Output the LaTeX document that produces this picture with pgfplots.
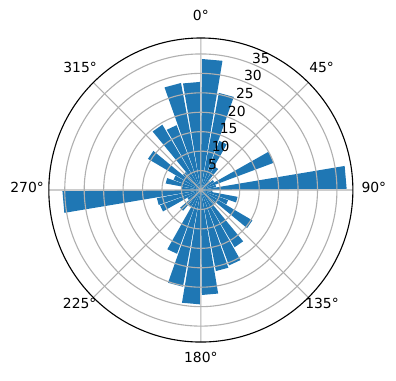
\documentclass[border=0pt]{standalone}
\usepackage{fontspec}
\setmainfont{DejaVu Sans}
\usepackage{pgfplots}
\pgfplotsset{compat=1.18}
\usepgfplotslibrary{polar}
\definecolor{mplblue}{HTML}{1F77B4}
\definecolor{gridgray}{HTML}{B0B0B0}
\newcommand{\rb}[3]{\addplot[fill=mplblue, draw=none] coordinates {(#1,0) (#1,#3) (#2,#3) (#2,0)} -- cycle;}
\begin{document}
\begin{tikzpicture}
\begin{polaraxis}[
  scale only axis, width=218.9pt, height=218.9pt,
  ymin=0, ymax=39.1,
  xtick={0,45,...,315},
  xticklabels={},
  ytick={5,10,...,35},
  yticklabels={},
  grid=major,
  major grid style={gridgray, line width=0.8pt},
  axis on top,
  separate axis lines,
  x axis line style={black, line width=0.8pt},
  y axis line style={draw=none},
  major tick length=0pt,
  clip=false,
  font=\fontsize{10}{12}\selectfont,
]
% bars: compass bins of 10 degrees, converted to math angles (90 - compass)
\rb{89.5}{80.5}{33.7}
\rb{79.5}{70.5}{25.4}
\rb{69.5}{60.5}{13.5}
\rb{59.5}{50.5}{7}
\rb{49.5}{40.5}{3}
\rb{39.5}{30.5}{4}
\rb{29.5}{20.5}{20}
\rb{19.5}{10.5}{4}
\rb{9.5}{0.5}{37.5}
\rb{-0.5}{-9.5}{3}
\rb{-10.5}{-19.5}{9.6}
\rb{-20.5}{-29.5}{7.5}
\rb{-30.5}{-39.5}{15.4}
\rb{-40.5}{-49.5}{5}
\rb{-50.5}{-59.5}{17.1}
\rb{-60.5}{-69.5}{20.7}
\rb{-70.5}{-79.5}{21.2}
\rb{-80.5}{-89.5}{27}
\rb{-90.5}{-99.5}{29.4}
\rb{-100.5}{-109.5}{25.3}
\rb{-110.5}{-119.5}{17.5}
\rb{-120.5}{-129.5}{5}
\rb{-130.5}{-139.5}{7}
\rb{-140.5}{-149.5}{4}
\rb{-150.5}{-159.5}{11.2}
\rb{-160.5}{-169.5}{11.5}
\rb{-170.5}{-179.5}{35.6}
\rb{-180.5}{-189.5}{5}
\rb{-190.5}{-199.5}{9.2}
\rb{-200.5}{-209.5}{7.5}
\rb{-210.5}{-219.5}{15.8}
\rb{-220.5}{-229.5}{6}
\rb{-230.5}{-239.5}{19.5}
\rb{-240.5}{-249.5}{17.8}
\rb{-250.5}{-259.5}{28}
\rb{-260.5}{-269.5}{27.8}
% radial tick labels
\node[font=\fontsize{10}{12}\selectfont] at (axis cs:65.5,7.3) {5};
\node[font=\fontsize{10}{12}\selectfont] at (axis cs:65.5,12.3) {10};
\node[font=\fontsize{10}{12}\selectfont] at (axis cs:65.5,17.3) {15};
\node[font=\fontsize{10}{12}\selectfont] at (axis cs:65.5,22.3) {20};
\node[font=\fontsize{10}{12}\selectfont] at (axis cs:65.5,27.3) {25};
\node[font=\fontsize{10}{12}\selectfont] at (axis cs:65.5,32.3) {30};
\node[font=\fontsize{10}{12}\selectfont] at (axis cs:65.5,37.3) {35};
% angular tick labels
\node[font=\fontsize{10}{12}\selectfont] at (axis cs:90,45.0) {0°};
\node[font=\fontsize{10}{12}\selectfont] at (axis cs:45.5,44.3) {45°};
\node[font=\fontsize{10}{12}\selectfont] at (axis cs:0.7,44.5) {90°};
\node[font=\fontsize{10}{12}\selectfont] at (axis cs:-43,42.6) {135°};
\node[font=\fontsize{10}{12}\selectfont] at (axis cs:-90,43.0) {180°};
\node[font=\fontsize{10}{12}\selectfont] at (axis cs:-137,42.6) {225°};
\node[font=\fontsize{10}{12}\selectfont] at (axis cs:179.3,44.7) {270°};
\node[font=\fontsize{10}{12}\selectfont] at (axis cs:134.5,44.3) {315°};
\coordinate (ctr) at (axis cs:0,0);
\end{polaraxis}
\pgfresetboundingbox
\useasboundingbox ([shift={(-144.6pt,-136.8pt)}]ctr) rectangle ([shift={(140.5pt,136.8pt)}]ctr);
\end{tikzpicture}
\end{document}
